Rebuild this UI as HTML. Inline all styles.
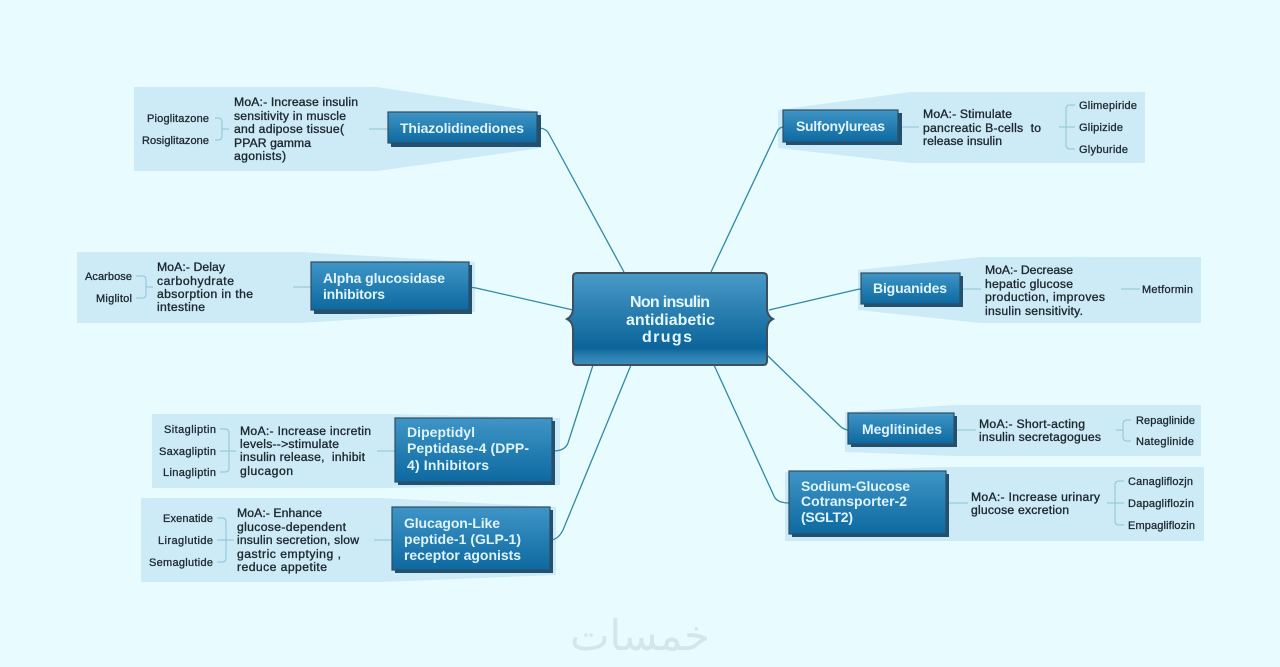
<!DOCTYPE html>
<html lang="en">
<head>
<meta charset="utf-8">
<title>Non insulin antidiabetic drugs</title>
<style>
html,body{margin:0;padding:0;background:#e8fbfe;width:1280px;height:667px;overflow:hidden}
svg{display:block}
text{font-family:"Liberation Sans",sans-serif}
.m{font-size:12.2px;fill:#1d2730;stroke:#1d2730;stroke-width:.35px}
.i{font-size:11px;fill:#1d2730;stroke:#1d2730;stroke-width:.3px}
.n{font-size:14px;font-weight:700;fill:#dff3fb}
.c{font-size:16px;font-weight:700;fill:#e4f7ff}
.p{fill:#cdebf6}
.l{fill:none;stroke:#2f8aa3;stroke-width:1.3px}
.b{fill:none;stroke:#8fc3d4;stroke-width:1px}
.s{fill:#24506f}
.r{fill:url(#g);stroke:#2d4d63;stroke-width:1.2px}
</style>
</head>
<body>
<svg width="1280" height="667" viewBox="0 0 1280 667" xmlns="http://www.w3.org/2000/svg">
<defs>
<linearGradient id="g" x1="0" y1="0" x2="0" y2="1">
<stop offset="0" stop-color="#3f95c6"/><stop offset="1" stop-color="#0d69a0"/>
</linearGradient>
<linearGradient id="gc" x1="0" y1="0" x2="0" y2="1">
<stop offset="0" stop-color="#4a9ac8"/><stop offset=".82" stop-color="#0b6499"/><stop offset=".9" stop-color="#2a7fb0"/><stop offset="1" stop-color="#3f8fbd"/>
</linearGradient>
</defs>
<rect width="1280" height="667" fill="#e8fbfe"/>

<!-- panels -->
<polygon class="p" points="134,87 377,87 541,112 541,148 377,171 134,171"/>
<polygon class="p" points="778,110 910,92 1145,92 1145,163 910,163 778,148"/>
<polygon class="p" points="77,252 300,252 475,262 475,312 300,323 77,323"/>
<polygon class="p" points="858,270 980,257 1201,257 1201,323 980,323 858,310"/>
<polygon class="p" points="845,412 955,405 1201,405 1201,456 955,456 845,452"/>
<polygon class="p" points="152,414 390,414 560,418 560,485 390,488 152,488"/>
<polygon class="p" points="785,472 945,467 1204,467 1204,541 945,541 785,541"/>
<polygon class="p" points="141,498 380,498 556,507 556,575 380,582 141,582"/>

<!-- connectors -->
<path class="l" d="M624,272 L549,134 Q546,128 538,128"/>
<path class="l" d="M711,272 L777,132 Q779,127 784,127"/>
<path class="l" d="M769,310 L855,290 Q858,289 862,289"/>
<path class="l" d="M767,355 L840,426 Q844,430 849,430"/>
<path class="l" d="M714,365 L774,496 Q777,503 789,503"/>
<path class="l" d="M573,310 L476,288 L469,287"/>
<path class="l" d="M593,365 L568,443 Q565,451 553,451"/>
<path class="l" d="M631,365 L563,530 Q558,540 550,540"/>

<!-- panel stems and brackets -->
<path class="b" d="M369,129H388M215,118H218Q222,118 222,122V136Q222,140 218,140H215M222,129H229"/>
<path class="b" d="M898,127H919M1059,127H1075M1075,105H1070Q1066,105 1066,109V145Q1066,149 1070,149H1075"/>
<path class="b" d="M293,287H311M136,276H143Q146,276 146,280V294Q146,298 143,298H136M146,287H153"/>
<path class="b" d="M960,289H981M1121,289H1140"/>
<path class="b" d="M954,430H976M1116,430H1123M1131,420H1127Q1123,420 1123,424V437Q1123,441 1127,441H1131"/>
<path class="b" d="M377,451H395M220,429H225Q229,429 229,433V468Q229,472 225,472H220M220,451H236"/>
<path class="b" d="M946,503H968M1107,503H1124M1124,481H1119Q1115,481 1115,485V521Q1115,525 1119,525H1124"/>
<path class="b" d="M374,540H392M217,518H222Q226,518 226,522V558Q226,562 222,562H217M217,540H234"/>

<!-- nodes -->
<rect class="s" x="391" y="115" width="150" height="32"/><rect class="r" x="388" y="112" width="149" height="31"/>
<rect class="s" x="786" y="113" width="116" height="32"/><rect class="r" x="783" y="110" width="115" height="32"/>
<rect class="s" x="314" y="265" width="158" height="49"/><rect class="r" x="311" y="262" width="158" height="48"/>
<rect class="s" x="864" y="276" width="99" height="31"/><rect class="r" x="861" y="273" width="99" height="31"/>
<rect class="s" x="851" y="416" width="106" height="31"/><rect class="r" x="848" y="413" width="106" height="31"/>
<rect class="s" x="398" y="421" width="157" height="64"/><rect class="r" x="395" y="418" width="157" height="64"/>
<rect class="s" x="792" y="474" width="157" height="63"/><rect class="r" x="789" y="471" width="157" height="63"/>
<rect class="s" x="395" y="510" width="158" height="63"/><rect class="r" x="392" y="507" width="158" height="63"/>

<!-- central -->
<path d="M577,273H763Q767,273 767,277V308Q767,316 773,319Q767,322 767,330V361Q767,365 763,365H577Q573,365 573,361V330Q573,322 567,319Q573,316 573,308V277Q573,273 577,273Z" fill="url(#gc)" stroke="#3d4f5c" stroke-width="2"/>
<text class="c" x="630" y="307" textLength="80">Non insulin</text>
<text class="c" x="626" y="325" textLength="89">antidiabetic</text>
<text class="c" x="642" y="342" textLength="50">drugs</text>

<!-- node labels -->
<text class="n" x="400" y="133" textLength="124">Thiazolidinediones</text>
<text class="n" x="796" y="131" textLength="89">Sulfonylureas</text>
<text class="n" x="323" y="283" textLength="122">Alpha glucosidase</text>
<text class="n" x="323" y="299" textLength="62">inhibitors</text>
<text class="n" x="873" y="293" textLength="74">Biguanides</text>
<text class="n" x="862" y="434" textLength="80">Meglitinides</text>
<text class="n" x="407" y="437" textLength="68">Dipeptidyl</text>
<text class="n" x="407" y="453" textLength="122">Peptidase-4 (DPP-</text>
<text class="n" x="407" y="470" textLength="82">4) Inhibitors</text>
<text class="n" x="801" y="491" textLength="109">Sodium-Glucose</text>
<text class="n" x="801" y="506" textLength="106">Cotransporter-2</text>
<text class="n" x="801" y="522" textLength="52">(SGLT2)</text>
<text class="n" x="404" y="528" textLength="96">Glucagon-Like</text>
<text class="n" x="404" y="544" textLength="117">peptide-1 (GLP-1)</text>
<text class="n" x="404" y="560" textLength="117">receptor agonists</text>

<!-- MoA -->
<text class="m" x="234" y="106" textLength="124">MoA:- Increase insulin</text>
<text class="m" x="234" y="120" textLength="112">sensitivity in muscle</text>
<text class="m" x="234" y="133" textLength="110">and adipose tissue(</text>
<text class="m" x="234" y="147" textLength="77">PPAR gamma</text>
<text class="m" x="234" y="160" textLength="52">agonists)</text>

<text class="m" x="923" y="118" textLength="89">MoA:- Stimulate</text>
<text class="m" x="923" y="132" textLength="118" xml:space="preserve">pancreatic B-cells  to</text>
<text class="m" x="923" y="145" textLength="79">release insulin</text>

<text class="m" x="157" y="271" textLength="68">MoA:- Delay</text>
<text class="m" x="157" y="285" textLength="77">carbohydrate</text>
<text class="m" x="157" y="298" textLength="96">absorption in the</text>
<text class="m" x="157" y="311" textLength="48">intestine</text>

<text class="m" x="985" y="274" textLength="88">MoA:- Decrease</text>
<text class="m" x="985" y="288" textLength="88">hepatic glucose</text>
<text class="m" x="985" y="301" textLength="120">production, improves</text>
<text class="m" x="985" y="315" textLength="98">insulin sensitivity.</text>

<text class="m" x="979" y="428" textLength="106">MoA:- Short-acting</text>
<text class="m" x="979" y="441" textLength="122">insulin secretagogues</text>

<text class="m" x="240" y="435" textLength="131">MoA:- Increase incretin</text>
<text class="m" x="240" y="448" textLength="99">levels--&gt;stimulate</text>
<text class="m" x="240" y="461" textLength="125" xml:space="preserve">insulin release,  inhibit</text>
<text class="m" x="240" y="475" textLength="53">glucagon</text>

<text class="m" x="971" y="501" textLength="129">MoA:- Increase urinary</text>
<text class="m" x="971" y="514" textLength="98">glucose excretion</text>

<text class="m" x="237" y="517" textLength="85">MoA:- Enhance</text>
<text class="m" x="237" y="531" textLength="109">glucose-dependent</text>
<text class="m" x="237" y="544" textLength="122">insulin secretion, slow</text>
<text class="m" x="237" y="558" textLength="104">gastric emptying ,</text>
<text class="m" x="237" y="571" textLength="90">reduce appetite</text>

<!-- items -->
<text class="i" x="147" y="122" textLength="62">Pioglitazone</text>
<text class="i" x="142" y="144" textLength="67">Rosiglitazone</text>
<text class="i" x="1079" y="109" textLength="58">Glimepiride</text>
<text class="i" x="1079" y="131" textLength="44">Glipizide</text>
<text class="i" x="1079" y="153" textLength="49">Glyburide</text>
<text class="i" x="85" y="280" textLength="47">Acarbose</text>
<text class="i" x="96" y="302" textLength="36">Miglitol</text>
<text class="i" x="1142" y="293" textLength="51">Metformin</text>
<text class="i" x="1136" y="424" textLength="59">Repaglinide</text>
<text class="i" x="1136" y="445" textLength="58">Nateglinide</text>
<text class="i" x="164" y="433" textLength="52">Sitagliptin</text>
<text class="i" x="159" y="455" textLength="57">Saxagliptin</text>
<text class="i" x="163" y="476" textLength="53">Linagliptin</text>
<text class="i" x="1128" y="485" textLength="65">Canagliflozjn</text>
<text class="i" x="1128" y="507" textLength="66">Dapagliflozin</text>
<text class="i" x="1128" y="529" textLength="67">Empagliflozin</text>
<text class="i" x="163" y="522" textLength="50">Exenatide</text>
<text class="i" x="158" y="544" textLength="55">Liraglutide</text>
<text class="i" x="149" y="566" textLength="64">Semaglutide</text>

<!-- watermark -->
<text x="640" y="650" text-anchor="middle" style="font-family:'DejaVu Sans',sans-serif;font-size:42px" fill="#d3e6e9">خمسات</text>
</svg>
</body>
</html>
